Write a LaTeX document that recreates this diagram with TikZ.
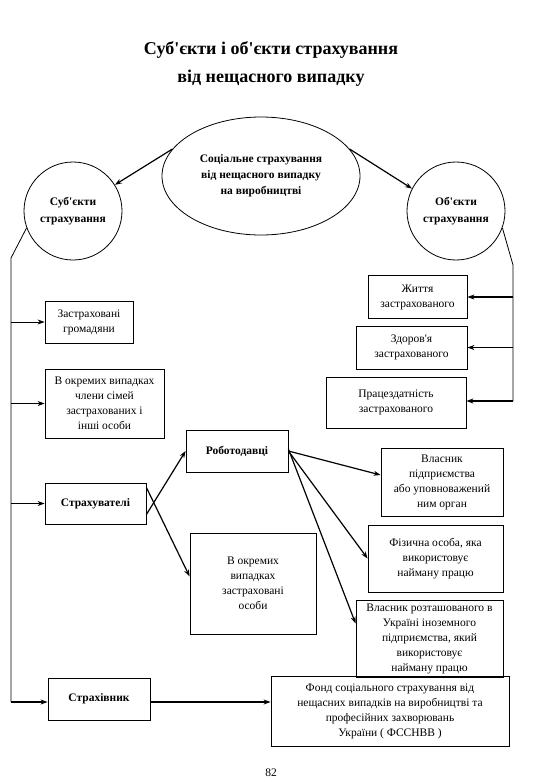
\documentclass[tikz,border=0pt]{standalone}
\usepackage{fontspec}
\setmainfont{Liberation Serif}[Ligatures=TeXOff]
\usetikzlibrary{arrows.meta,shapes.geometric}
\begin{document}
\begin{tikzpicture}[x=1pt,y=-1pt,
 txt/.style={font=\fontsize{11.5}{15}\selectfont},
 box/.style={draw,line width=0.8pt,rectangle,align=center,inner sep=1pt,txt},
 bbox/.style={box,font=\fontsize{11.5}{15}\selectfont\bfseries},
 round/.style={draw,line width=0.8pt,circle,minimum size=98pt,inner sep=0pt,align=center,font=\fontsize{11.5}{16.5}\selectfont\bfseries},
 arr/.style={-{Stealth[length=7pt,width=5pt]},line width=1.2pt},
 ln/.style={line width=0.8pt}]
\useasboundingbox (0,0) rectangle (540,780);
\fill[white] (0,0) rectangle (540,780);

\node[align=center,font=\fontsize{18}{28}\selectfont\bfseries] (title) at (271,64) {Суб'єкти і об'єкти страхування\\від нещасного випадку};

\node[draw,line width=0.8pt,ellipse,minimum width=198pt,minimum height=118pt,inner sep=0pt,align=center,font=\fontsize{11.5}{16}\selectfont\bfseries] (ell) at (261,176) {Соціальне страхування\\від нещасного випадку\\на виробництві};
\node[round] (lc) at (73,211) {Суб'єкти\\страхування};
\node[round] (rc) at (456,211) {Об'єкти\\страхування};

\node[box,minimum width=88pt,minimum height=42pt] (zg) at (89,322) {Застраховані\\громадяни};
\node[box,minimum width=119pt,minimum height=69pt] (chl) at (104.5,403.5) {В окремих випадках\\члени сімей\\застрахованих і\\інші особи};
\node[box,minimum width=99pt,minimum height=43pt] (zh) at (417.5,297) {Життя\\застрахованого};
\node[box,minimum width=111pt,minimum height=43pt] (zd) at (411.5,347.5) {Здоров'я\\застрахованого};
\node[box,minimum width=140pt,minimum height=51pt] (pr) at (396,402.5) {Працездатність\\застрахованого};

\node[bbox,minimum width=102pt,minimum height=42pt] (rob) at (237,451) {Роботодавці};
\node[bbox,minimum width=101pt,minimum height=41pt] (strv) at (95.5,503.5) {Страхувателі};
\node[box,minimum width=126pt,minimum height=101pt] (oz) at (253,583.5) {В окремих\\випадках\\застраховані\\особи};
\node[box,minimum width=122pt,minimum height=68pt] (vp) at (442,482) {Власник\\підприємства\\або уповноважений\\ним орган};
\node[box,minimum width=135pt,minimum height=67pt] (fo) at (435.5,558.5) {Фізична особа, яка\\використовує\\найману працю};
\node[box,minimum width=147pt,minimum height=77pt] (vr) at (429.5,638.5) {Власник розташованого в\\Україні іноземного\\підприємства, який\\використовує\\найману працю};

\node[bbox,minimum width=102pt,minimum height=42pt] (stk) at (99,699) {Страхівник};
\node[box,minimum width=238pt,minimum height=70pt] (fund) at (390,711) {Фонд соціального страхування від\\нещасних випадків на виробництві та\\професійних захворювань\\України ( ФССНВВ )};

\node[txt] (pg) at (271,773) {82};

% ellipse to circles
\draw[arr] (ell.163) -- (lc.32);
\draw[arr] (ell.17) -- (rc.153);

% left trunk
\coordinate (lb) at (11,258);
\coordinate (lbot) at (11,702);
\draw[ln] (lc.200) -- (lb) -- (lbot);
\draw[arr,line width=0.8pt] (zg.west -| lb) -- (zg.west);
\draw[arr,line width=0.8pt] (chl.west -| lb) -- (chl.west);
\draw[arr,line width=0.8pt] (strv.west -| lb) -- (strv.west);
\draw[arr] (lbot) -- (lbot -| stk.west);

% right trunk
\coordinate (rb) at (513,265);
\coordinate (rbot) at (513,401);
\draw[ln] (rc.-20) -- (rb) -- (rbot);
\draw[arr] (zh.east -| rb) -- (zh.east);
\draw[arr] (zd.east -| rb) -- (zd.east);
\draw[arr] (rbot) -- (rbot -| pr.east);

% insurers
\draw[arr] ([yshift=-11pt]strv.east) -- (rob.west);
\draw[arr] ([yshift=16pt]strv.east) -- ([yshift=7pt]oz.west);
\draw[arr] (rob.east) -- ([yshift=7pt]vp.west);
\draw[arr] (rob.east) -- (fo.west);
\draw[arr] ([yshift=2pt]rob.east) -- ([yshift=15pt]vr.west);

% insurer to fund
\draw[arr] (lbot -| stk.east) -- (lbot -| fund.west);
\end{tikzpicture}
\end{document}
